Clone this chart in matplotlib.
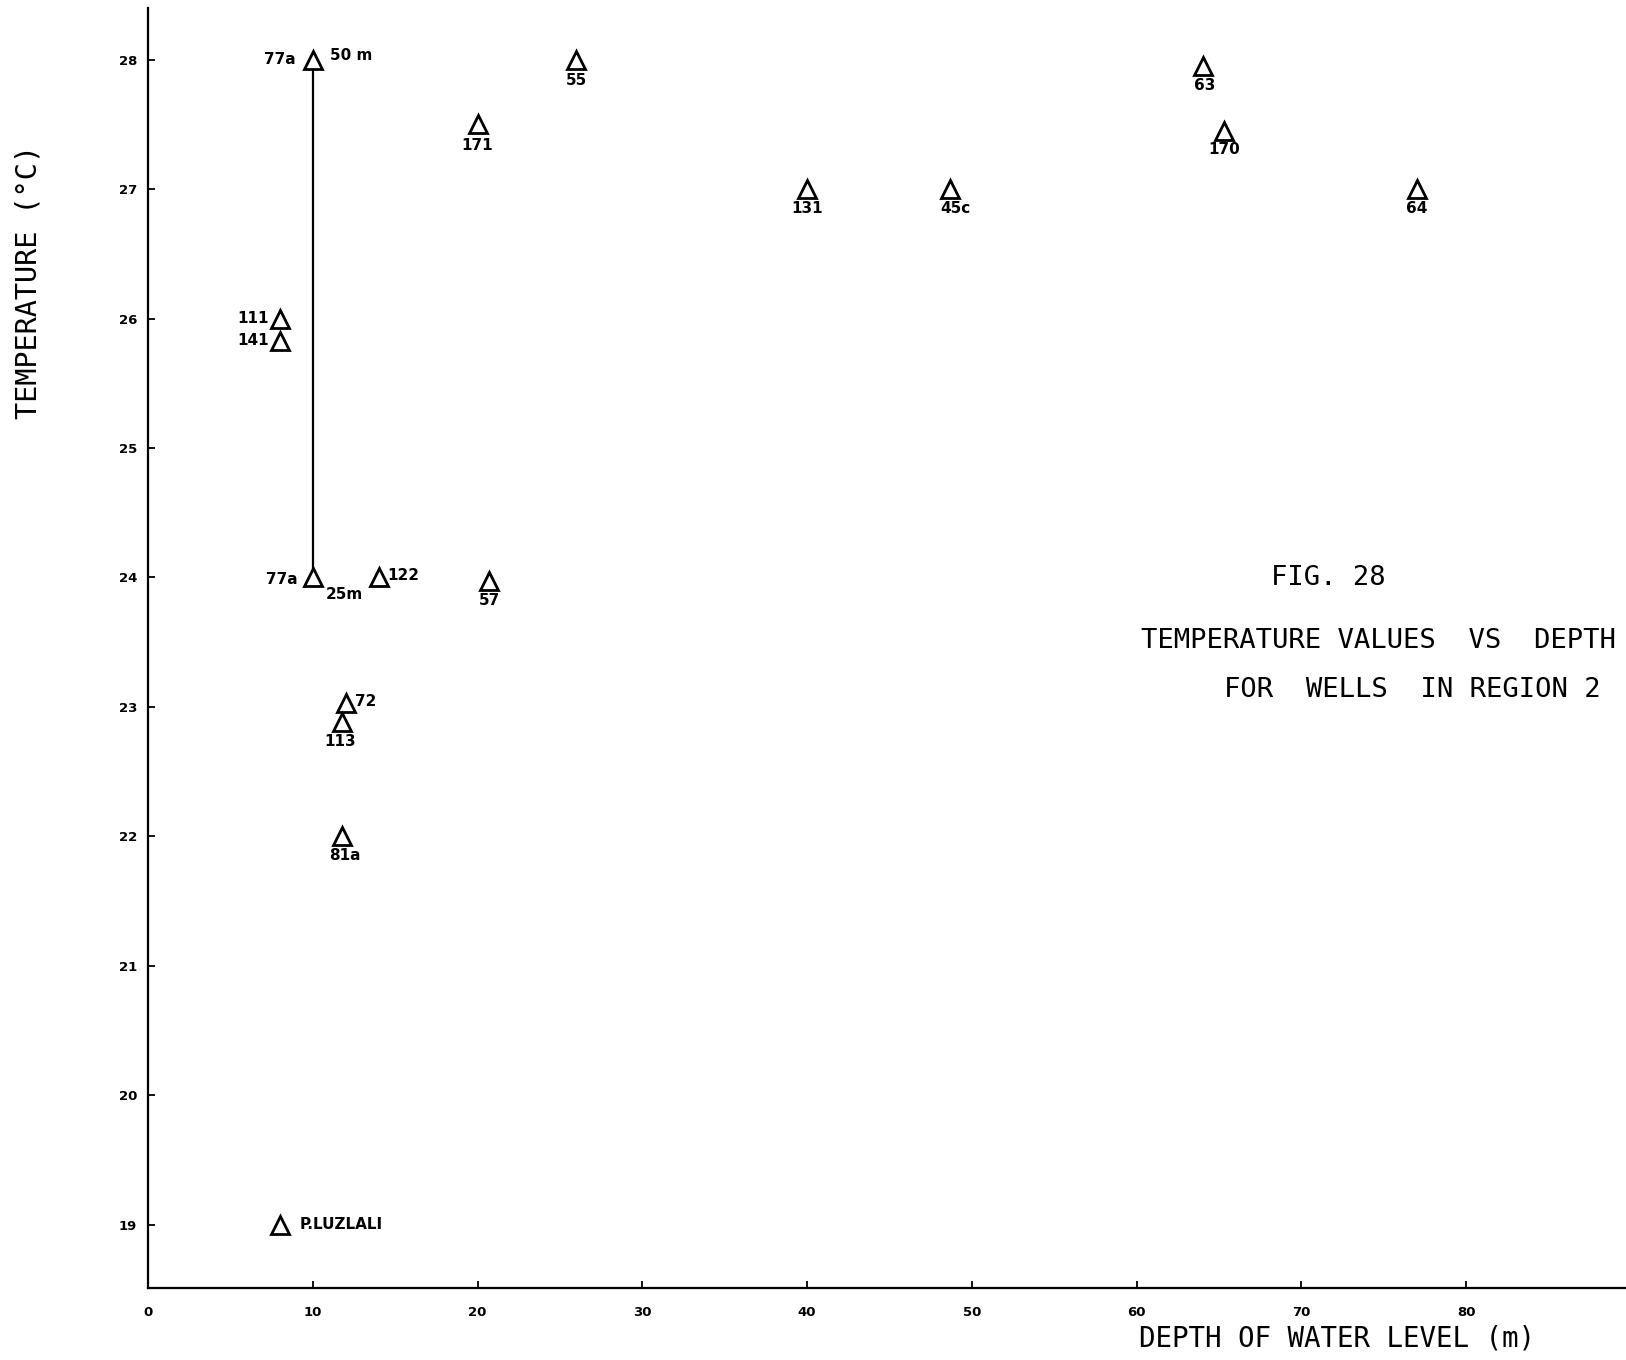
import matplotlib
matplotlib.use("Agg")
import matplotlib.pyplot as plt

# Well temperature vs depth of water level, region 2
wells = ["77a", "77a", "111", "141", "122", "57", "72", "113", "81a",
         "P.LUZLALI", "55", "171", "131", "45c", "63", "170", "64"]
depth = [10, 10, 8, 8, 14, 20.7, 12, 11.8, 11.8,
         8, 26, 20, 40, 48.7, 64, 65.3, 77]
temperature = [28.0, 24.0, 26.0, 25.83, 24.0, 23.97, 23.03, 22.88, 22.0,
               19.0, 28.0, 27.5, 27.0, 27.0, 27.95, 27.45, 27.0]

# Label placement for each well: (dx, dy) in points, horizontal alignment
label_pos = [(-12, 0, "right"), (-11, -1.5, "right"), (-8, 0, "right"),
             (-7.5, 0, "right"), (6.5, 1.5, "left"), (0, -14, "center"),
             (6.5, 1, "left"), (-1.5, -13.5, "center"), (2, -13.5, "center"),
             (14, 0, "left"), (0, -15, "center"), (0, -15, "center"),
             (0, -14, "center"), (3.5, -14, "center"), (1.5, -14, "center"),
             (0, -13.5, "center"), (0, -14, "center")]

# Sampling depths for well 77a
profile_tags = ["50 m", "25m"]

x_ticks = [0, 10, 20, 30, 40, 50, 60, 70, 80]
y_ticks = [19, 20, 21, 22, 23, 24, 25, 26, 27, 28]

W, H = 1626, 1360
fig = plt.figure(figsize=(W / 100, H / 100), dpi=100)
ax = fig.add_axes([148 / W, 1 - 1288 / H, 1 - 148 / W, (1288 - 8) / H])
ax.set_xlim(0, 89.7)
ax.set_ylim(18.51, 28.4)

for s in ("top", "right"):
    ax.spines[s].set_visible(False)
for s in ("left", "bottom"):
    ax.spines[s].set_linewidth(1.6)

ax.set_xticks(x_ticks)
ax.set_yticks(y_ticks)
ax.tick_params(direction="in", length=5, width=1.3, labelsize=9.5)
ax.tick_params(axis="x", pad=13)
ax.tick_params(axis="y", pad=8)
for lab in ax.get_xticklabels() + ax.get_yticklabels():
    lab.set_fontweight("bold")

# Vertical profile of well 77a between the two sampling depths
i_top, i_bot = 0, 1
ax.plot([depth[i_top], depth[i_bot]], [temperature[i_top], temperature[i_bot]],
        color="black", lw=1.6, zorder=2)

ax.plot(depth, temperature, linestyle="none", marker="^", ms=13,
        mfc="white", mec="black", mew=2, zorder=3)

for name, x, y, (dx, dy, ha) in zip(wells, depth, temperature, label_pos):
    ax.annotate(name, (x, y), xytext=(dx, dy), textcoords="offset points",
                ha=ha, va="center", fontsize=11, fontweight="bold")

ax.annotate(profile_tags[0], (depth[i_top], temperature[i_top]), xytext=(12.5, 3),
            textcoords="offset points", ha="left", va="center",
            fontsize=11, fontweight="bold")
ax.annotate(profile_tags[1], (depth[i_bot], temperature[i_bot]), xytext=(9.5, -12),
            textcoords="offset points", ha="left", va="center",
            fontsize=11, fontweight="bold")

mono = "DejaVu Sans Mono"
fig.text(29 / W, 1 - 282 / H, "TEMPERATURE (°C)", rotation=90, ha="center",
         va="center", fontsize=20.5, family=mono)
fig.text(1139 / W, 1 - 1339 / H, "DEPTH OF WATER LEVEL (m)", ha="left",
         va="center", fontsize=19.8, family=mono)

fig.text(1328 / W, 1 - 578 / H, "FIG. 28", ha="center", va="center",
         fontsize=19.5, family=mono)
fig.text(1141 / W, 1 - 641 / H, "TEMPERATURE VALUES  VS  DEPTH", ha="left",
         va="center", fontsize=19.6, family=mono)
fig.text(1224 / W, 1 - 690 / H, "FOR  WELLS  IN REGION 2", ha="left",
         va="center", fontsize=19.6, family=mono)

fig.savefig("out.png", dpi=100, facecolor="white")
